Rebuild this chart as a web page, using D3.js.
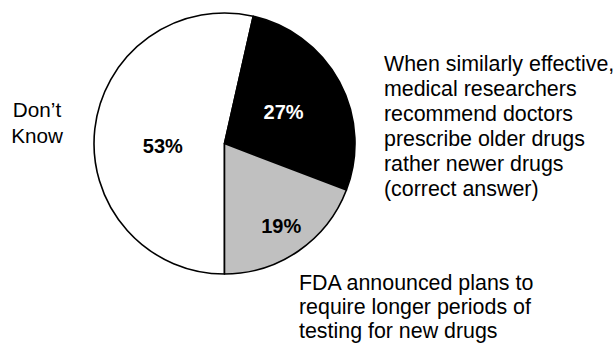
<!DOCTYPE html>
<html>
<head>
<meta charset="utf-8">
<script src="https://cdn.jsdelivr.net/npm/d3@7"></script>
<style>
  html, body { margin: 0; padding: 0; background: #fff; }
  svg { display: block; }
  text { font-family: "Liberation Sans", Arial, sans-serif; }
</style>
</head>
<body>
<svg id="chart" width="616" height="343"></svg>
<script>
// Survey answers, in drawing order (clockwise from the bottom)
const answers = ["Don\u2019t Know", "Correct answer", "FDA plans"];
const shares = [53, 27, 19];
const shareLabels = ["53%", "27%", "19%"];
const fills = ["#ffffff", "#000000", "#c0c0c0"];
const labelColors = ["#000000", "#ffffff", "#000000"];

// Callout texts beside the pie
const calloutDontKnow = ["Don\u2019t", "Know"];
const calloutCorrect = ["When similarly effective,", "medical researchers", "recommend doctors",
  "prescribe older drugs", "rather newer drugs", "(correct answer)"];
const calloutFda = ["FDA announced plans to", "require longer periods of", "testing for new drugs"];

const svg = d3.select("#chart");
const cx = 224.5, cy = 143.5, radius = 130.5;

const pie = d3.pie().sort(null).value(d => d)
  .startAngle(Math.PI).endAngle(3 * Math.PI);
const arcs = pie(shares);
const arc = d3.arc().innerRadius(0).outerRadius(radius);

const g = svg.append("g").attr("transform", `translate(${cx},${cy})`);
g.selectAll("path.slice")
  .data(arcs)
  .join("path")
  .attr("class", "slice")
  .attr("d", arc)
  .attr("fill", (d, i) => fills[i])
  .attr("stroke", "#000")
  .attr("stroke-width", 1.6)
  .attr("stroke-linejoin", "round");

// Percent labels placed along each slice's bisector
const labelRadius = [62, 67, 100];
const labelShift = [8.7, 0, 0];
g.selectAll("text.pct")
  .data(arcs)
  .join("text")
  .attr("class", "pct")
  .attr("transform", (d, i) => {
    const [x, y] = d3.arc().innerRadius(labelRadius[i]).outerRadius(labelRadius[i]).centroid(d);
    return `translate(${x},${y + labelShift[i]})`;
  })
  .attr("text-anchor", "middle")
  .attr("dy", "0.36em")
  .attr("font-weight", "bold")
  .attr("font-size", 20)
  .attr("fill", (d, i) => labelColors[i])
  .text((d, i) => shareLabels[i]);

function callout(lines, x, y0, step, anchor, size) {
  svg.append("g").selectAll("text")
    .data(lines)
    .join("text")
    .attr("x", x)
    .attr("y", (d, i) => y0 + i * step)
    .attr("text-anchor", anchor)
    .attr("font-size", size)
    .attr("fill", "#000")
    .text(d => d);
}

callout(calloutDontKnow, 37, 117, 25.5, "middle", 20.7);
callout(calloutCorrect, 384, 70.5, 25, "start", 21.4);
callout(calloutFda, 299, 290, 24.2, "start", 21.4);
</script>
</body>
</html>
